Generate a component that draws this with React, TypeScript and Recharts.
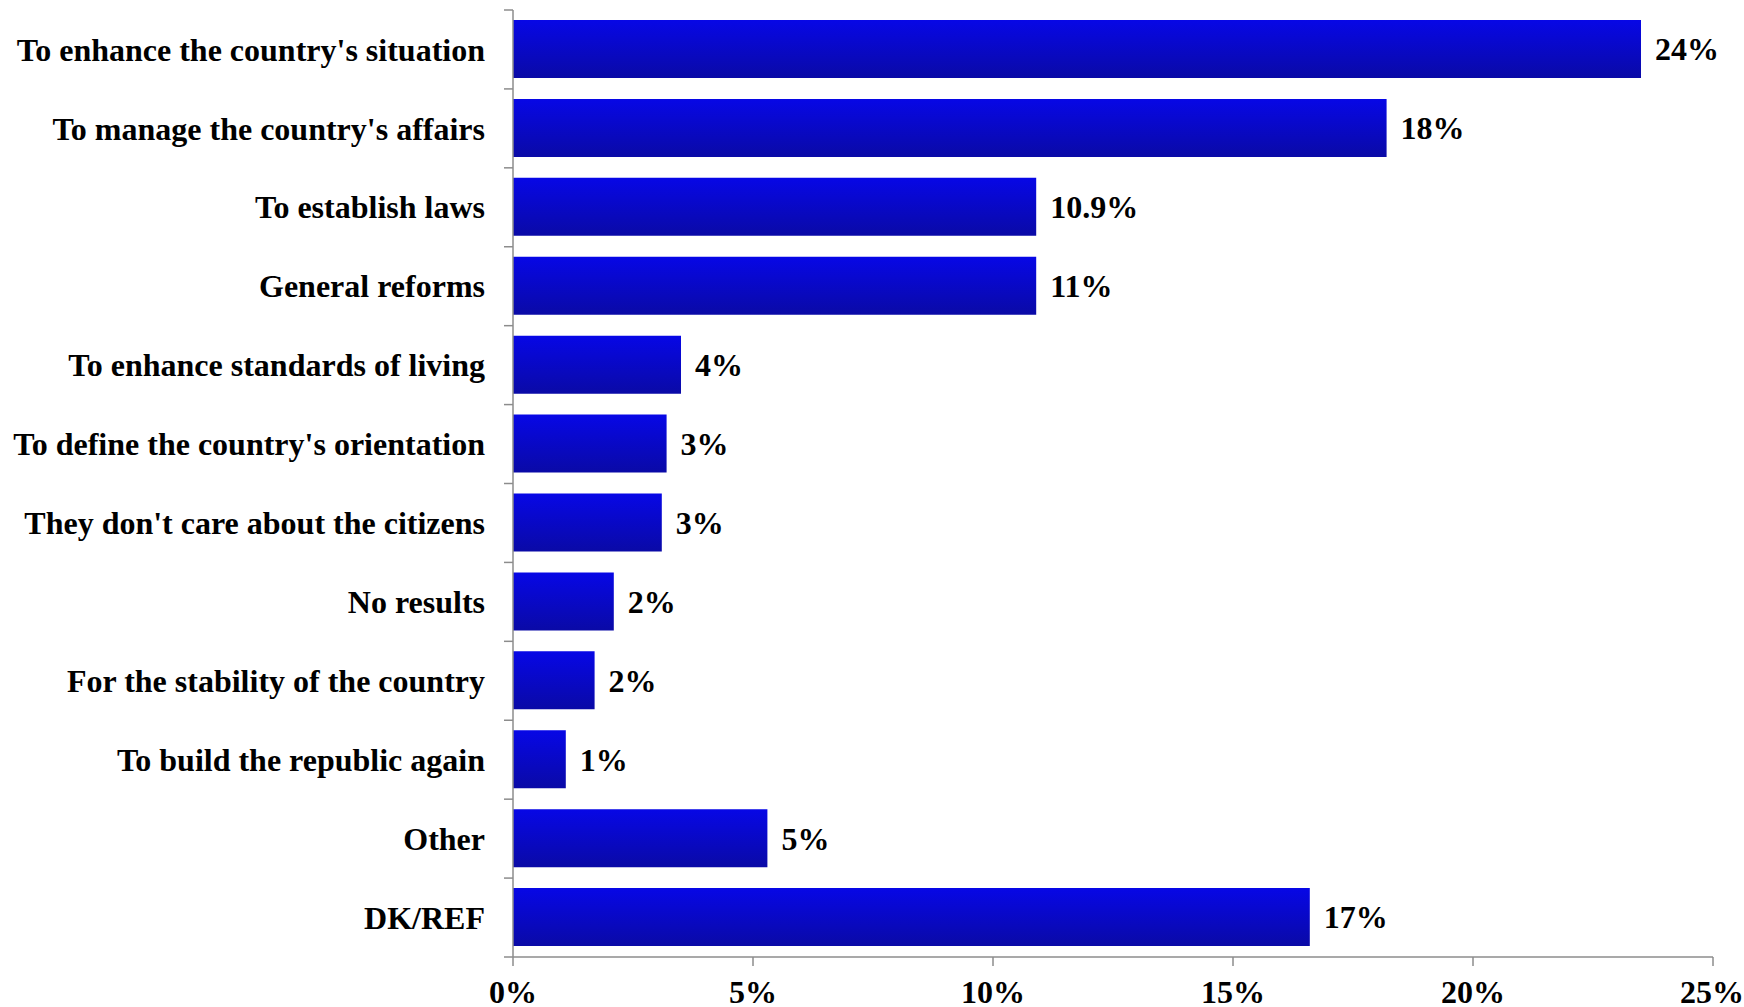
import React from 'react';
import { BarChart, Bar, XAxis, YAxis, LabelList } from 'recharts';

const categories = [
  "To enhance the country's situation",
  "To manage the country's affairs",
  'To establish laws',
  'General reforms',
  'To enhance standards of living',
  "To define the country's orientation",
  "They don't care about the citizens",
  'No results',
  'For the stability of the country',
  'To build the republic again',
  'Other',
  'DK/REF',
];
const values = [23.5, 18.2, 10.9, 10.9, 3.5, 3.2, 3.1, 2.1, 1.7, 1.1, 5.3, 16.6];
const valueLabels = ['24%', '18%', '10.9%', '11%', '4%', '3%', '3%', '2%', '2%', '1%', '5%', '17%'];
const xTicks = [0, 5, 10, 15, 20, 25];

const W = 1744;
const H = 1007;
const AXIS_X = 513;
const PLOT_TOP = 10;
const PLOT_BOTTOM = 957;
const BAND = (PLOT_BOTTOM - PLOT_TOP) / categories.length;
const FONT = '"Liberation Serif", "Times New Roman", serif';
const FONT_SIZE = 32;
const AXIS_COLOR = '#8c8c8c';

const data = categories.map((name, i) => ({ name, value: values[i], label: valueLabels[i] }));

// category labels sit mid-band, tick marks go on the band edges (Excel style)
function CategoryTick(props: any) {
  const { y, payload, index } = props;
  const top = y - BAND / 2;
  return (
    <g>
      <line x1={AXIS_X - 9} x2={AXIS_X} y1={top} y2={top} stroke={AXIS_COLOR} strokeWidth={1.5} />
      {index === categories.length - 1 && (
        <line x1={AXIS_X - 9} x2={AXIS_X} y1={top + BAND} y2={top + BAND} stroke={AXIS_COLOR} strokeWidth={1.5} />
      )}
      <text
        x={AXIS_X - 28}
        y={y}
        dy="0.35em"
        textAnchor="end"
        fontFamily={FONT}
        fontWeight="bold"
        fontSize={FONT_SIZE}
        fill="#000"
      >
        {payload.value}
      </text>
    </g>
  );
}

export default function App() {
  return (
    <div style={{ position: 'absolute', left: 0, top: 0, width: W, height: H, background: '#fff' }}>
      <BarChart
        width={W}
        height={H}
        data={data}
        layout="vertical"
        margin={{ top: PLOT_TOP, right: W - 1713, bottom: 0, left: 0 }}
      >
        <defs>
          <linearGradient id="barFill" x1="0" y1="0" x2="0" y2="1">
            <stop offset="0%" stopColor="#0707E6" />
            <stop offset="100%" stopColor="#0A0AA6" />
          </linearGradient>
        </defs>
        <XAxis
          type="number"
          domain={[0, 25]}
          ticks={xTicks}
          tickFormatter={(v: number) => `${v}%`}
          height={H - PLOT_BOTTOM}
          stroke={AXIS_COLOR}
          strokeWidth={1.5}
          tickSize={9}
          tickMargin={14}
          tick={{ fontFamily: FONT, fontWeight: 'bold', fontSize: FONT_SIZE, fill: '#000' }}
        />
        <YAxis
          type="category"
          dataKey="name"
          width={AXIS_X}
          stroke={AXIS_COLOR}
          strokeWidth={1.5}
          tickLine={false}
          interval={0}
          tick={<CategoryTick />}
        />
        <Bar dataKey="value" fill="url(#barFill)" barSize={58} isAnimationActive={false}>
          <LabelList
            dataKey="label"
            position="right"
            offset={14}
            style={{ fontFamily: FONT, fontWeight: 'bold', fontSize: FONT_SIZE, fill: '#000' }}
          />
        </Bar>
      </BarChart>
    </div>
  );
}
